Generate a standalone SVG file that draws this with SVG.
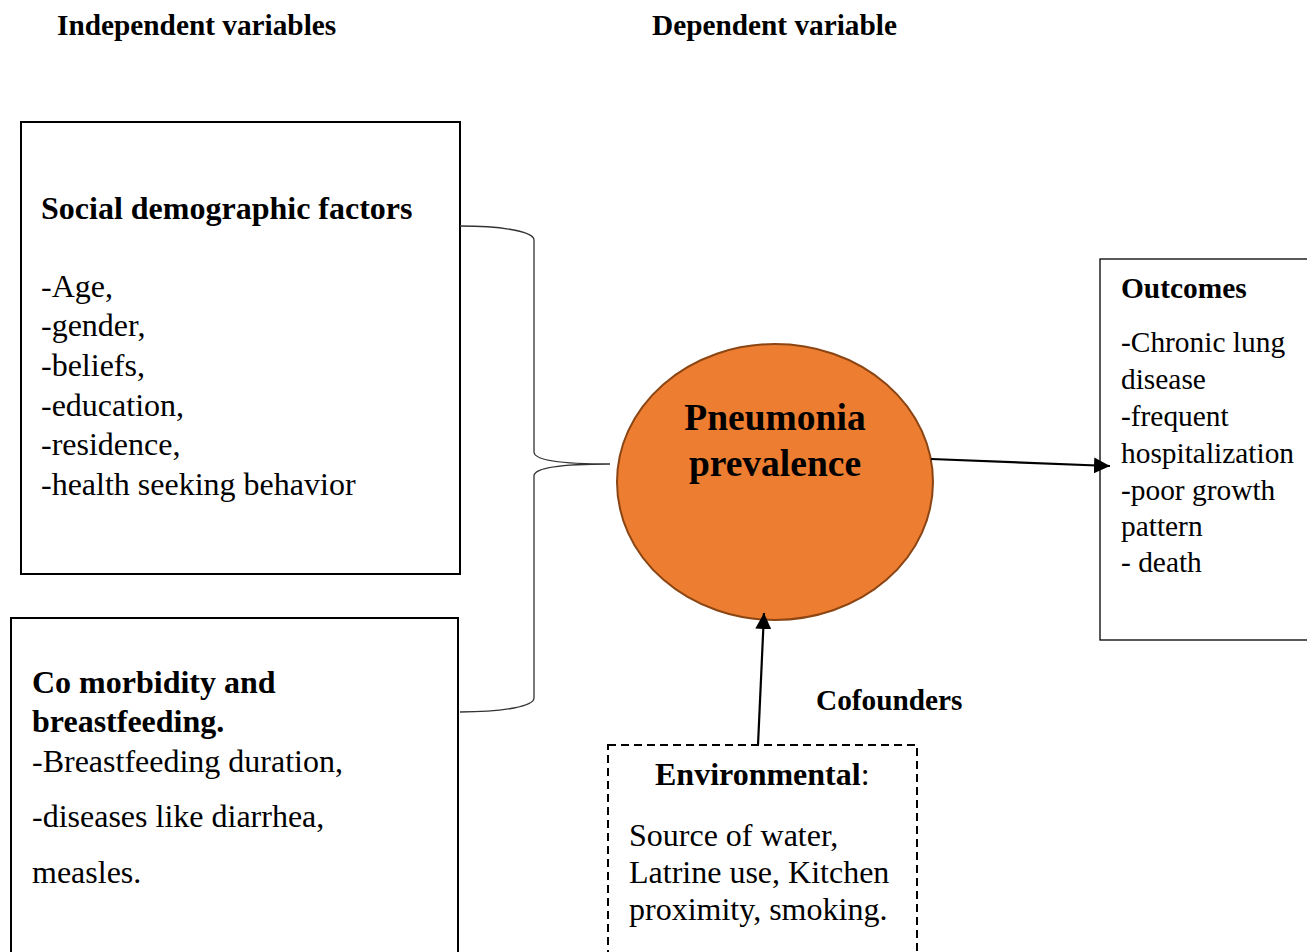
<svg xmlns="http://www.w3.org/2000/svg" width="1307" height="952" viewBox="0 0 1307 952">
<defs>
<style>
text{font-family:"Liberation Serif","Times New Roman",serif;fill:#000}
.h{font-weight:bold;font-size:29.3px}
.b{font-weight:bold;font-size:32px}
.t{font-size:32px}
.ob{font-weight:bold;font-size:29.4px}
.ot{font-size:29.4px}
.box{fill:#fff;stroke:#000;stroke-width:2}
</style>
<marker id="arr" viewBox="0 0 10 10" refX="10" refY="5" markerWidth="16" markerHeight="16" orient="auto" markerUnits="userSpaceOnUse">
<path d="M0,0L10,5L0,10z" fill="#000"/>
</marker>
</defs>
<rect width="1307" height="952" fill="#fff"/>
<text class="h" x="57" y="35">Independent variables</text>
<text class="h" x="652" y="35">Dependent variable</text>
<g id="social">
<rect class="box" x="21" y="122" width="439" height="452"/>
<text class="b" x="41" y="219">Social demographic factors</text>
<text class="t" x="41" y="297">-Age,</text>
<text class="t" x="41" y="336">-gender,</text>
<text class="t" x="41" y="376">-beliefs,</text>
<text class="t" x="41" y="416">-education,</text>
<text class="t" x="41" y="455">-residence,</text>
<text class="t" x="41" y="495">-health seeking behavior</text>
</g>
<g id="comorbidity">
<rect class="box" x="11" y="618" width="447" height="345"/>
<text class="b" x="32" y="693">Co morbidity and</text>
<text class="b" x="32" y="732">breastfeeding.</text>
<text class="t" x="32" y="772">-Breastfeeding duration,</text>
<text class="t" x="32" y="827">-diseases like diarrhea,</text>
<text class="t" x="32" y="883">measles.</text>
</g>
<g id="pneumonia">
<ellipse cx="775" cy="482" rx="158" ry="138" fill="#ED7D31" stroke="#8B4513" stroke-width="2"/>
<text x="775" y="430" text-anchor="middle" style="font-weight:bold;font-size:37.5px">Pneumonia</text>
<text x="775" y="476" text-anchor="middle" style="font-weight:bold;font-size:37.5px">prevalence</text>
</g>
<g id="outcomes">
<rect x="1100" y="259" width="220" height="381" fill="#fff" stroke="#000" stroke-width="1.3"/>
<text class="ob" x="1121" y="298">Outcomes</text>
<text class="ot" x="1121" y="352">-Chronic lung</text>
<text class="ot" x="1121" y="389">disease</text>
<text class="ot" x="1121" y="426">-frequent</text>
<text class="ot" x="1121" y="463">hospitalization</text>
<text class="ot" x="1121" y="500">-poor growth</text>
<text class="ot" x="1121" y="536">pattern</text>
<text class="ot" x="1121" y="572">- death</text>
</g>
<g id="environmental">
<rect x="608" y="745" width="309" height="220" fill="#fff" stroke="#000" stroke-width="2" stroke-dasharray="8,5"/>
<text x="655" y="785"><tspan class="b">Environmental</tspan><tspan class="t">:</tspan></text>
<text class="t" x="629" y="846">Source of water,</text>
<text class="t" x="629" y="883">Latrine use, Kitchen</text>
<text class="t" x="629" y="920">proximity, smoking.</text>
</g>
<text class="h" x="816" y="710">Cofounders</text>
<g id="connectors" fill="none" stroke="#000">
<path d="M460,226 C505,226 534,232 534,240 L534,452 C534,460 560,464 610,464 C560,464 534,468 534,476 L534,698 C534,706 505,712 460,712" stroke="#333" stroke-width="1.3"/>
<line x1="931" y1="459" x2="1110" y2="466" stroke-width="2.2" marker-end="url(#arr)"/>
<line x1="758" y1="745" x2="764" y2="613" stroke-width="2.2" marker-end="url(#arr)"/>
</g>
</svg>
